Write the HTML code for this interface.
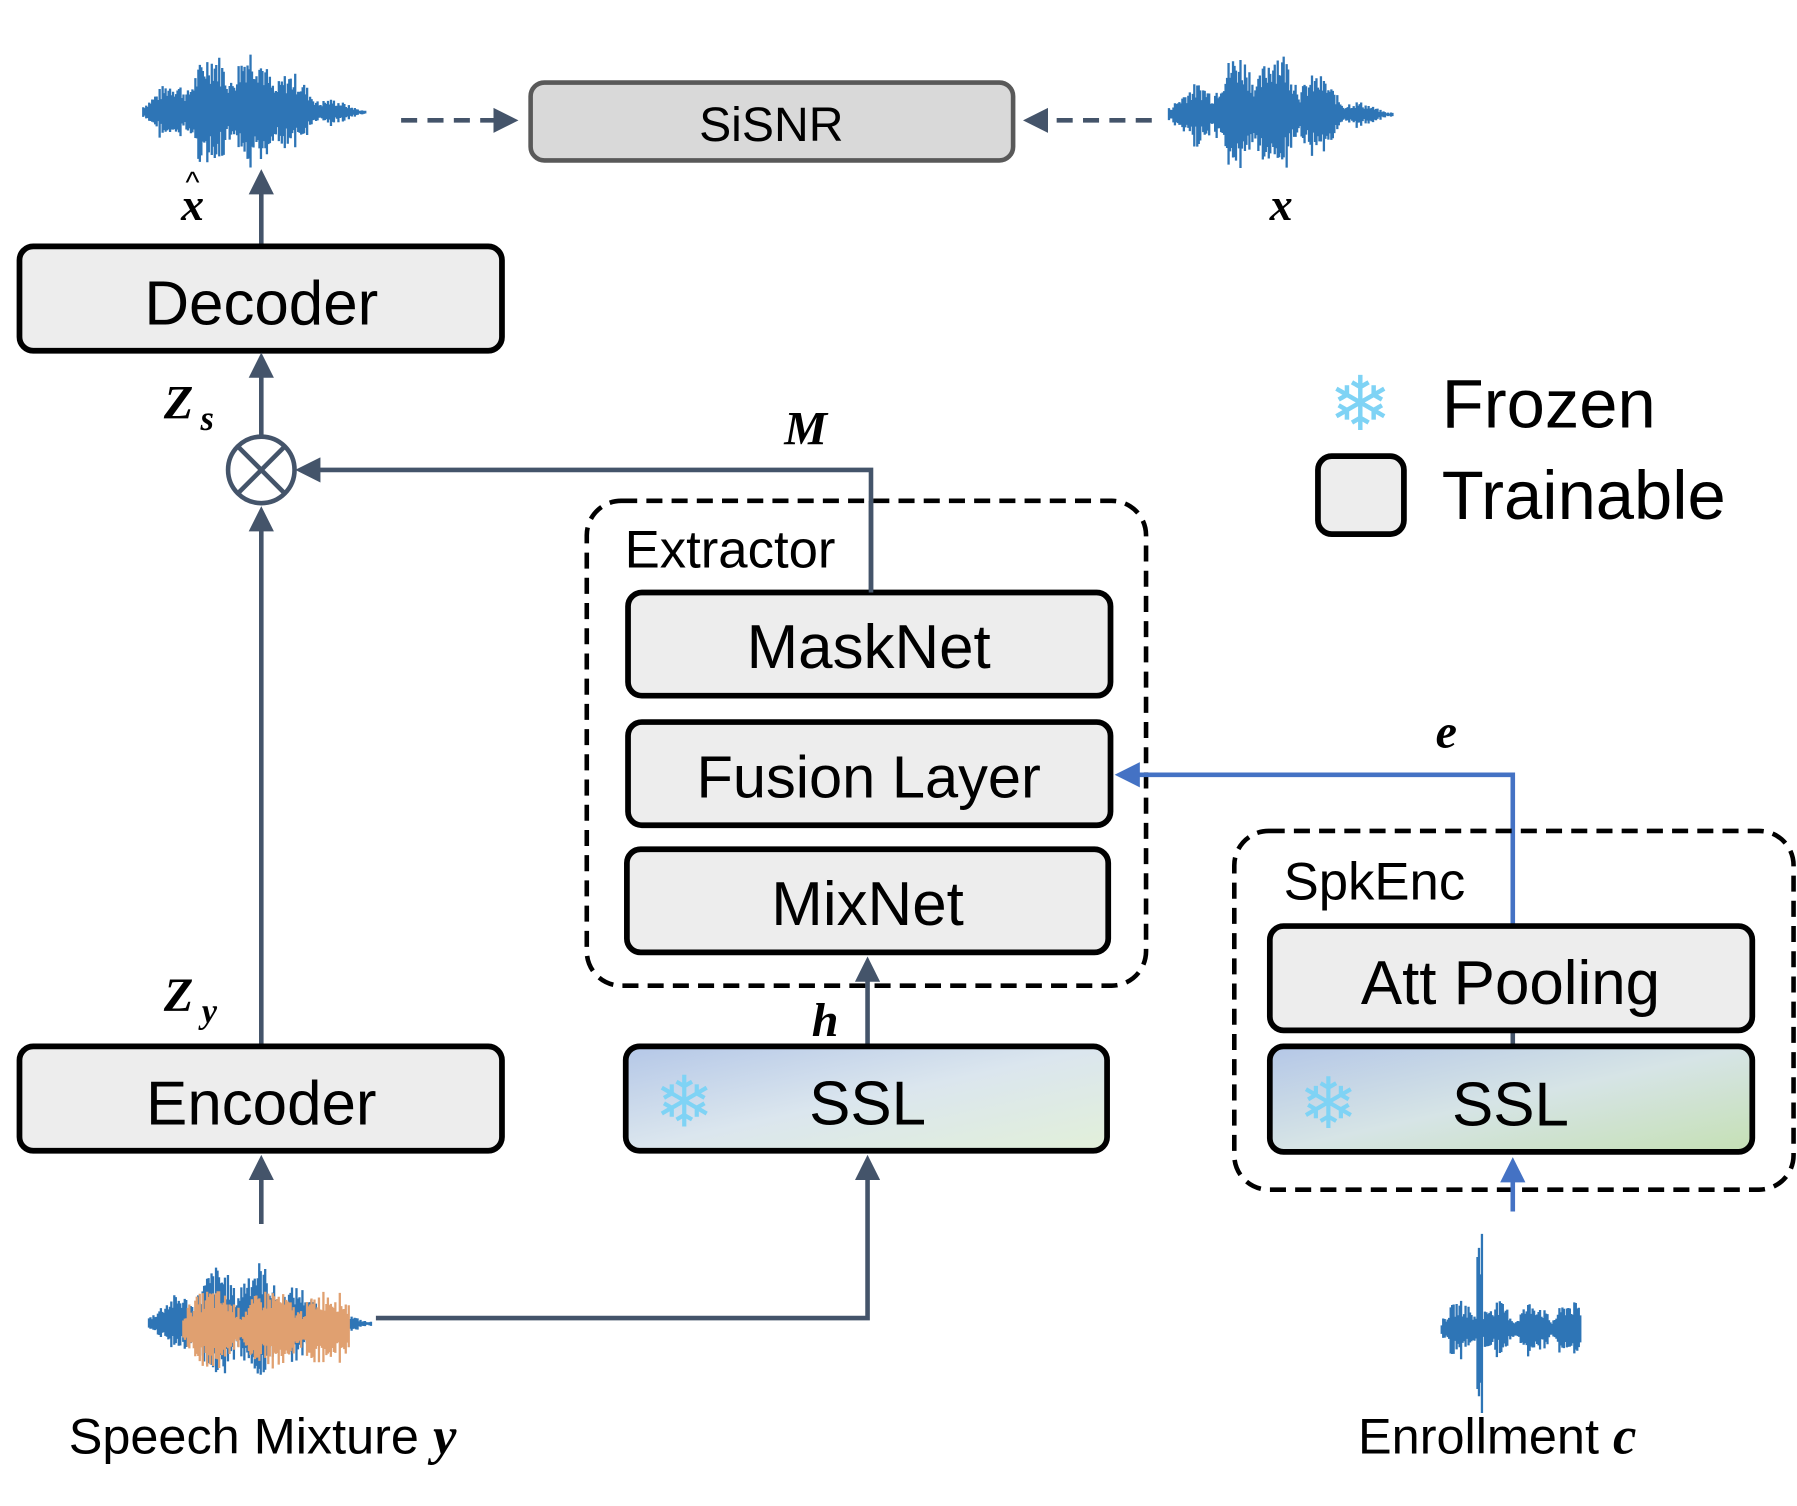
<!DOCTYPE html>
<html><head><meta charset="utf-8">
<style>
html,body{margin:0;padding:0;background:#fff;}
svg{display:block;}
text{font-family:"Liberation Sans","DejaVu Sans",sans-serif;}
.m{font-family:"Liberation Serif",serif;font-weight:bold;font-style:italic;}
</style></head>
<body>
<svg width="1797" height="1506" viewBox="0 0 1568 1314" preserveAspectRatio="none" xmlns="http://www.w3.org/2000/svg">
<defs>
<marker id="ag" markerWidth="22" markerHeight="22" refX="8" refY="5" orient="auto" markerUnits="userSpaceOnUse" viewBox="0 0 10 10"><path d="M0,0 L10,5 L0,10 z" fill="#44546a"/></marker>
<marker id="ab" markerWidth="22" markerHeight="22" refX="8" refY="5" orient="auto" markerUnits="userSpaceOnUse" viewBox="0 0 10 10"><path d="M0,0 L10,5 L0,10 z" fill="#4472c4"/></marker>
<linearGradient id="g1" x1="0" y1="0" x2="1" y2="1"><stop offset="0" stop-color="#b4c7e7"/><stop offset="0.5" stop-color="#dbe6ee"/><stop offset="1" stop-color="#e2f0d9"/></linearGradient>
<linearGradient id="g2" x1="0" y1="0" x2="1" y2="1"><stop offset="0" stop-color="#b4c7e7"/><stop offset="0.5" stop-color="#d6e4e6"/><stop offset="1" stop-color="#c5e0b4"/></linearGradient>
</defs>
<g id="waves"></g>

<line x1="350" y1="105" x2="448" y2="105" stroke="#44546a" stroke-width="4" stroke-dasharray="14,9" marker-end="url(#ag)"/>
<rect x="463" y="72" width="421" height="68" rx="12" fill="#d9d9d9" stroke="#595959" stroke-width="4"/>
<text x="673" y="123" font-size="42" text-anchor="middle">SiSNR</text>
<line x1="1005" y1="105" x2="897" y2="105" stroke="#44546a" stroke-width="4" stroke-dasharray="14,9" marker-end="url(#ag)"/>
<text x="168" y="192" font-size="40" class="m" text-anchor="middle">x</text>
<text x="168" y="168" font-size="26" text-anchor="middle">^</text>
<text x="1118" y="192" font-size="40" class="m" text-anchor="middle">x</text>

<line x1="228" y1="213" x2="228" y2="152" stroke="#44546a" stroke-width="4" marker-end="url(#ag)"/>
<rect x="17" y="215" width="421" height="91" rx="12" fill="#ededed" stroke="#000" stroke-width="5"/>
<text x="228" y="283" font-size="54" text-anchor="middle">Decoder</text>
<text x="143" y="365" font-size="42" class="m">Z</text><text x="175" y="375" font-size="30" class="m">s</text>
<line x1="228" y1="380" x2="228" y2="312" stroke="#44546a" stroke-width="4" marker-end="url(#ag)"/>
<circle cx="228" cy="410" r="29" fill="#fff" stroke="#44546a" stroke-width="4"/>
<line x1="208" y1="390" x2="248" y2="430" stroke="#44546a" stroke-width="4"/>
<line x1="248" y1="390" x2="208" y2="430" stroke="#44546a" stroke-width="4"/>
<polyline points="760,515 760,410 262,410" fill="none" stroke="#44546a" stroke-width="4" marker-end="url(#ag)"/>
<text x="703" y="388" font-size="42" class="m" text-anchor="middle">M</text>
<line x1="228" y1="912" x2="228" y2="446" stroke="#44546a" stroke-width="4" marker-end="url(#ag)"/>
<text x="143" y="882" font-size="42" class="m">Z</text><text x="176" y="892" font-size="30" class="m">y</text>

<rect x="512" y="437" width="488" height="423" rx="30" fill="none" stroke="#000" stroke-width="4" stroke-dasharray="14,8"/>
<text x="545" y="495" font-size="46">Extractor</text>
<rect x="548" y="517" width="421" height="90" rx="12" fill="#ededed" stroke="#000" stroke-width="5"/>
<text x="758" y="583" font-size="54" text-anchor="middle">MaskNet</text>
<line x1="760" y1="437" x2="760" y2="517" stroke="#44546a" stroke-width="4"/>
<rect x="548" y="630" width="421" height="90" rx="12" fill="#ededed" stroke="#000" stroke-width="5"/>
<text x="758" y="696" font-size="52" text-anchor="middle">Fusion Layer</text>
<rect x="547" y="741" width="420" height="90" rx="12" fill="#ededed" stroke="#000" stroke-width="5"/>
<text x="757" y="807" font-size="54" text-anchor="middle">MixNet</text>
<polyline points="1320,807 1320,676 977,676" fill="none" stroke="#4472c4" stroke-width="4" marker-end="url(#ab)"/>
<text x="1262" y="652" font-size="42" class="m" text-anchor="middle">e</text>
<line x1="757" y1="912" x2="757" y2="839" stroke="#44546a" stroke-width="4" marker-end="url(#ag)"/>
<text x="720" y="904" font-size="42" class="m" text-anchor="middle">h</text>

<rect x="17" y="913" width="421" height="91" rx="12" fill="#ededed" stroke="#000" stroke-width="5"/>
<text x="228" y="981" font-size="54" text-anchor="middle">Encoder</text>
<rect x="546" y="913" width="420" height="91" rx="12" fill="url(#g1)" stroke="#000" stroke-width="5"/>
<text x="757" y="981" font-size="54" text-anchor="middle">SSL</text>
<text x="597" y="983" font-size="62" fill="#7fd3f5" text-anchor="middle">❄</text>

<rect x="1077" y="725" width="488" height="313" rx="30" fill="none" stroke="#000" stroke-width="4" stroke-dasharray="14,8"/>
<text x="1120" y="785" font-size="46">SpkEnc</text>
<line x1="1320" y1="899" x2="1320" y2="913" stroke="#44546a" stroke-width="4"/>
<rect x="1108" y="808" width="421" height="91" rx="12" fill="#ededed" stroke="#000" stroke-width="5"/>
<text x="1318" y="876" font-size="54" text-anchor="middle">Att Pooling</text>
<rect x="1108" y="913" width="421" height="92" rx="12" fill="url(#g2)" stroke="#000" stroke-width="5"/>
<text x="1318" y="982" font-size="54" text-anchor="middle">SSL</text>
<text x="1159" y="984" font-size="62" fill="#7fd3f5" text-anchor="middle">❄</text>

<line x1="228" y1="1068" x2="228" y2="1012" stroke="#44546a" stroke-width="4" marker-end="url(#ag)"/>
<polyline points="328,1150 757,1150 757,1012" fill="none" stroke="#44546a" stroke-width="4" marker-end="url(#ag)"/>
<line x1="1320" y1="1057" x2="1320" y2="1014" stroke="#4472c4" stroke-width="4" marker-end="url(#ab)"/>

<text x="60" y="1268" font-size="44">Speech Mixture <tspan class="m" font-size="46">y</tspan></text>
<text x="1185" y="1268" font-size="44">Enrollment <tspan class="m" font-size="46">c</tspan></text>

<text x="1187" y="375" font-size="66" fill="#7fd3f5" text-anchor="middle">❄</text>
<text x="1258" y="373" font-size="60">Frozen</text>
<rect x="1150" y="398" width="75" height="68" rx="12" fill="#ededed" stroke="#000" stroke-width="5"/>
<text x="1258" y="453" font-size="60">Trainable</text>

<script>
(function(){
 var g=document.getElementById('waves');
 var s=7;function r(){s=(s*9301+49297)%233280;return s/233280;}
 function wave(x0,x1,cy,amp,col,w,env){
  var d='';for(var x=x0;x<=x1;x+=1.3){var t=(x-x0)/(x1-x0);var a=amp*env(t)*(0.45+0.55*r());d+='M'+x.toFixed(1)+','+(cy-a).toFixed(1)+'V'+(cy+a*(0.7+0.4*r())).toFixed(1);}
  var p=document.createElementNS('http://www.w3.org/2000/svg','path');p.setAttribute('d',d);p.setAttribute('stroke',col);p.setAttribute('stroke-width',w);p.setAttribute('fill','none');g.appendChild(p);
 }
 function e1(t){return Math.max(0.03,Math.exp(-Math.pow((t-0.42)/0.34,2))*(0.45+0.55*Math.abs(Math.sin(t*16))));}
 wave(125,320,98,62,'#2e75b6',2,e1);
 wave(1020,1215,100,62,'#2e75b6',2,e1);
 wave(130,325,1155,58,'#2e75b6',2,e1);
 wave(160,305,1160,36,'#e0a070',2,function(t){return 0.45+0.55*Math.abs(Math.sin(t*9));});
 wave(1258,1380,1160,30,'#2e75b6',2,function(t){return (t>0.25&&t<0.29)?3.3:0.25+0.6*Math.abs(Math.sin(t*12));});
})();
</script>
</svg>
</body></html>
